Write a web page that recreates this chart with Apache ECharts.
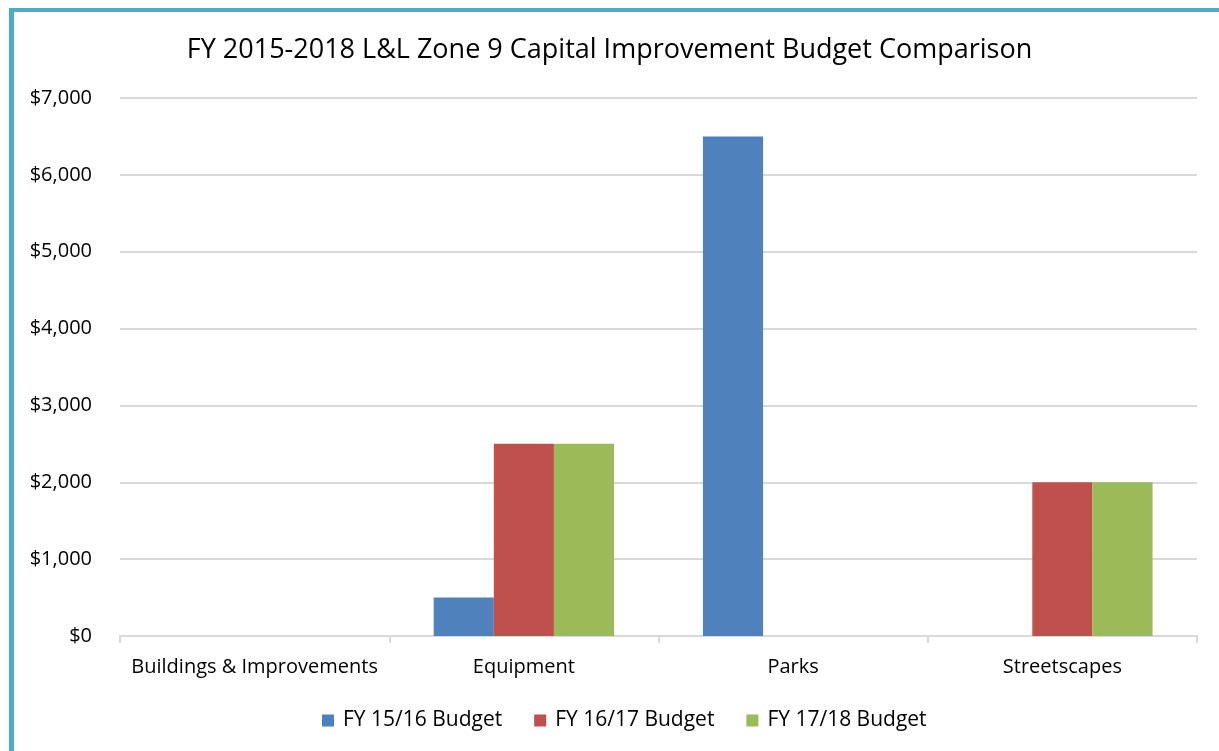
<!DOCTYPE html>
<html>
<head>
<meta charset="utf-8">
<script src="https://cdn.jsdelivr.net/npm/echarts@6/dist/echarts.min.js"></script>
<style>
  html, body { margin: 0; padding: 0; background: #fff; }
  #frame {
    position: absolute; left: 9px; top: 8px; width: 1300px; height: 800px;
    border-left: 5px solid #4bacc6; border-top: 4px solid #4bacc6;
  }
  #chart { position: absolute; left: 0; top: 0; width: 1219px; height: 751px; }
</style>
</head>
<body>
<div id="frame"></div>
<div id="chart"></div>
<script>
const categories = ['Buildings & Improvements', 'Equipment', 'Parks', 'Streetscapes'];
const fy1516 = [0, 500, 6500, 0];
const fy1617 = [0, 2500, 0, 2000];
const fy1718 = [0, 2500, 0, 2000];
const seriesNames = ['FY 15/16 Budget', 'FY 16/17 Budget', 'FY 17/18 Budget'];
const colors = ['#4f81bd', '#c0504d', '#9bbb59'];

const font = '"Open Sans", Lato, sans-serif';
const chart = echarts.init(document.getElementById('chart'));

chart.setOption({
  animation: false,
  color: colors,
  title: {
    text: 'FY 2015-2018 L&L Zone 9 Capital Improvement Budget Comparison',
    left: 'center', top: 32,
    textStyle: { fontFamily: font, fontSize: 27, fontWeight: 'normal', color: '#000' }
  },
  legend: {
    bottom: 15, left: 317,
    itemWidth: 12, itemHeight: 12, itemGap: 32, icon: 'rect',
    textStyle: { fontFamily: font, fontSize: 21, color: '#000', padding: [0, 0, 0, 4] }
  },
  grid: { left: 120, right: 22, top: 98, bottom: 115 },
  xAxis: {
    type: 'category',
    data: categories,
    axisLine: { lineStyle: { color: '#d9d9d9', width: 2 } },
    axisTick: { show: true, interval: 0, length: 7, lineStyle: { color: '#d9d9d9', width: 2 } },
    axisLabel: { interval: 0, fontFamily: font, fontSize: 20, color: '#000', margin: 21 }
  },
  yAxis: {
    type: 'value',
    min: 0, max: 7000, interval: 1000,
    axisLine: { show: false },
    axisTick: { show: false },
    splitLine: { lineStyle: { color: '#d9d9d9', width: 2 } },
    axisLabel: {
      fontFamily: font, fontSize: 20, color: '#000', margin: 28,
      formatter: v => '$' + v.toLocaleString('en-US')
    }
  },
  series: [
    { name: seriesNames[0], type: 'bar', data: fy1516, barGap: '0%', barCategoryGap: '33%' },
    { name: seriesNames[1], type: 'bar', data: fy1617, barGap: '0%', barCategoryGap: '33%' },
    { name: seriesNames[2], type: 'bar', data: fy1718, barGap: '0%', barCategoryGap: '33%' }
  ]
});
</script>
</body>
</html>
